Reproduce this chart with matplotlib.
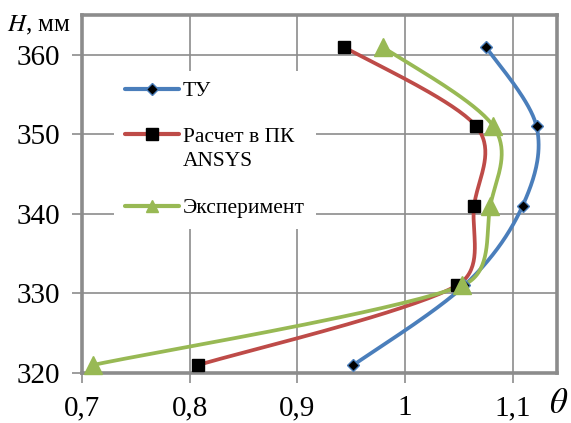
import numpy as np
import matplotlib
matplotlib.use("Agg")
import matplotlib.pyplot as plt
from matplotlib.ticker import FuncFormatter, MultipleLocator
from matplotlib.lines import Line2D

plt.rcParams['font.family'] = ['Liberation Serif', 'DejaVu Serif']
plt.rcParams['mathtext.fontset'] = 'stix'

H = [321, 331, 341, 351, 361]
tu = [0.952, 1.055, 1.109, 1.122, 1.075]
ansys = [0.808, 1.048, 1.064, 1.066, 0.943]
exper = [0.710, 1.053, 1.079, 1.082, 0.979]

labels = ['ТУ', 'Расчет в ПК\nANSYS', 'Эксперимент']
colors = ['#4a7ebb', '#be4b48', '#98b954']

fig = plt.figure(figsize=(5.71, 4.23), dpi=100)
ax = fig.add_axes([0.1436, 0.1182, 0.9755 - 0.1436, 0.9645 - 0.1182])
ax.set_xlim(0.7, 1.141)
ax.set_ylim(320, 365)


def smooth(xs, ys, n=40, cap=0.4):
    pts = ax.transData.transform(np.column_stack([xs, ys]))
    P = np.vstack([pts[0], pts, pts[-1]])
    out = []
    for i in range(1, len(P) - 2):
        p0, p1, p2, p3 = P[i - 1], P[i], P[i + 1], P[i + 2]
        d12 = np.linalg.norm(p2 - p1)
        a1 = (p2 - p0) / 6.0
        a2 = (p3 - p1) / 6.0
        for a in (a1, a2):
            L = np.linalg.norm(a)
            if L > cap * d12:
                a *= cap * d12 / L
        c1 = p1 + a1
        c2 = p2 - a2
        t = np.linspace(0, 1, n)[:, None]
        b = ((1 - t) ** 3) * p1 + 3 * ((1 - t) ** 2) * t * c1 + 3 * (1 - t) * t ** 2 * c2 + t ** 3 * p2
        out.append(b if i == 1 else b[1:])
    out = np.vstack(out)
    d = ax.transData.inverted().transform(out)
    return d[:, 0], d[:, 1]


series = [
    (tu, dict(marker='D', markersize=6, markerfacecolor='black', markeredgecolor=colors[0], markeredgewidth=1)),
    (ansys, dict(marker='s', markersize=9, markerfacecolor='black', markeredgecolor='black')),
    (exper, dict(marker='^', markersize=13, markerfacecolor=colors[2], markeredgecolor=colors[2])),
]
leg_ms = [6, 9, 8]
handles = []
for (xs, mk), c, lab, lms in zip(series, colors, labels, leg_ms):
    sx, sy = smooth(xs, H)
    ax.plot(sx, sy, color=c, lw=2.7, solid_capstyle='round', zorder=3)
    ax.plot(xs, H, linestyle='none', zorder=4, clip_on=False, **mk)
    mk2 = dict(mk)
    mk2['markersize'] = lms
    handles.append(Line2D([0], [0], color=c, lw=3, solid_capstyle='round', **mk2))

ax.xaxis.set_major_locator(MultipleLocator(0.1))
ax.yaxis.set_major_locator(MultipleLocator(10))
ax.xaxis.set_major_formatter(FuncFormatter(lambda v, p: f'{v:.1f}'.rstrip('0').rstrip('.').replace('.', ',')))
ax.yaxis.set_major_formatter(FuncFormatter(lambda v, p: f'{v:.0f}'))
ax.grid(True, color='#8c8c8c', lw=1.2)
ax.set_axisbelow(True)
for s in ax.spines.values():
    s.set_color('#8c8c8c')
    s.set_linewidth(2.6)
ax.tick_params(direction='out', length=7, width=1.2, color='#8c8c8c', labelsize=21)
ax.tick_params(axis='x', pad=9)
ax.tick_params(axis='y', pad=9)

leg = ax.legend(handles, labels, loc='upper left', bbox_to_anchor=(0.045, 0.875),
                frameon=True, facecolor='white', edgecolor='none', framealpha=1,
                fontsize=15.5, handlelength=2.5, handletextpad=0.2, labelspacing=1.25,
                borderpad=0.5, fancybox=False)
leg.set_zorder(5)
for t in leg.get_texts():
    t.set_linespacing(1.35)
# align the handle of the two-line entry with its first line
hl = leg.get_lines()[1]
hl.set_ydata(np.asarray(hl.get_ydata()) + 0.7 * 15.5)

fig.text(0.013, 0.94, '$H$, мм', fontsize=18, ha='left', va='center')
fig.text(0.995, 0.043, r'$\theta$', fontsize=25, ha='right', va='center')

fig.savefig('out.png', dpi=100)
